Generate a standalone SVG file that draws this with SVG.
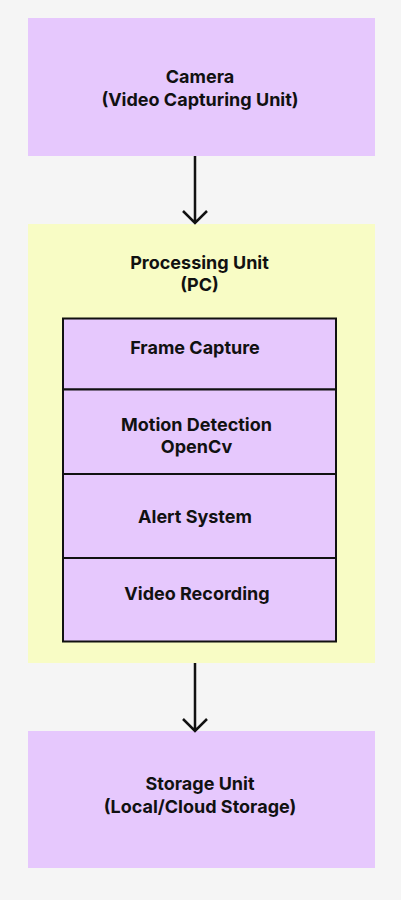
<svg xmlns="http://www.w3.org/2000/svg" width="401" height="900" viewBox="0 0 401 900">
<defs>
<style>
.t{font-family:Inter,"Noto Sans","DejaVu Sans",sans-serif;font-weight:700;font-size:18px;fill:#111;text-anchor:middle}
.p{fill:#e6c8fd}
.y{fill:#f8fcc5}
.c{stroke:#111;stroke-width:2}
.a{stroke:#111;stroke-width:2.5;fill:none}
</style>
</defs>
<rect width="401" height="900" fill="#f5f5f5"/>
<g id="camera">
<rect class="p" x="28" y="18" width="347" height="138"/>
<text class="t" x="200" y="82.5">Camera</text>
<text class="t" x="200" y="105.5">(Video Capturing Unit)</text>
</g>
<g id="processing">
<rect class="y" x="28" y="224" width="347" height="439"/>
<text class="t" x="199.5" y="268.5">Processing Unit</text>
<text class="t" x="199.5" y="290.5">(PC)</text>
</g>
<g id="frame-capture">
<rect class="p c" x="63" y="318.5" width="273" height="71"/>
<text class="t" x="195" y="354">Frame Capture</text>
</g>
<g id="motion-detection">
<rect class="p c" x="63" y="389.5" width="273" height="84.5"/>
<text class="t" x="196.5" y="431">Motion Detection</text>
<text class="t" x="196.5" y="453">OpenCv</text>
</g>
<g id="alert-system">
<rect class="p c" x="63" y="474" width="273" height="84"/>
<text class="t" x="195" y="522.5">Alert System</text>
</g>
<g id="video-recording">
<rect class="p c" x="63" y="558" width="273" height="83.5"/>
<text class="t" x="197" y="600">Video Recording</text>
</g>
<g id="storage">
<rect class="p" x="28" y="731" width="347" height="137"/>
<text class="t" x="200" y="790">Storage Unit</text>
<text class="t" x="200" y="812.5">(Local/Cloud Storage)</text>
</g>
<g id="connectors">
<path class="a" d="M195 156V222M183 211L195 223L207 211"/>
<path class="a" d="M195 663V729M183 719L195 731L207 719"/>
</g>
</svg>
